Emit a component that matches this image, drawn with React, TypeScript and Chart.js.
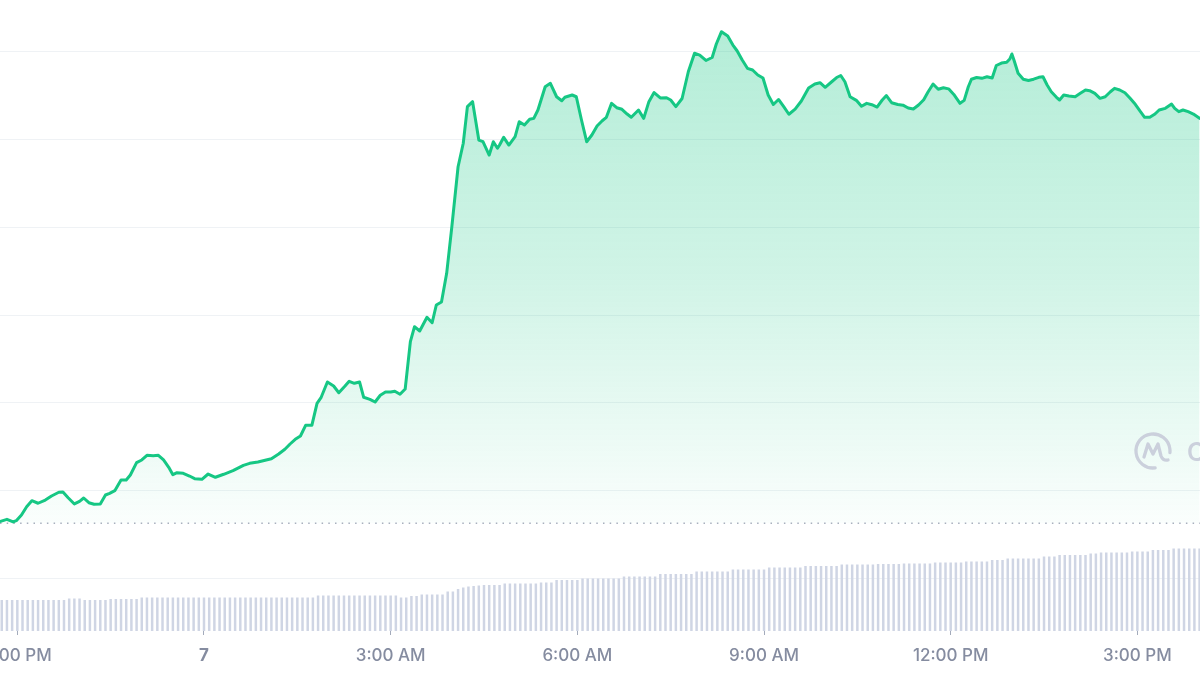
import { useEffect, useRef } from "react";
import { Chart, registerables } from "chart.js";

Chart.register(...registerables);

// Time in minutes from 00:00 on the 7th (negative = evening of the 6th)
const PRICE_TIMES = [
  -197, -190, -184, -181, -176, -171, -166, -160, -153, -147,
  -140, -136, -131, -125, -120, -116, -111, -106, -100, -95,
  -91, -86, -80, -75, -71, -65, -60, -55, -49, -44,
  -39, -34, -30, -26, -20, -14, -9, -2, 4, 11,
  19, 28, 38, 44, 52, 60, 65, 72, 78, 83,
  88, 93, 98, 104, 109, 113, 119, 125, 130, 136,
  140, 145, 150, 154, 160, 165, 170, 175, 180, 184,
  189, 194, 199, 203, 208, 215, 220, 224, 229, 234,
  239, 245, 250, 254, 259, 265, 269, 272, 275, 279,
  283, 285, 289, 294, 300, 304, 309, 314, 318, 322,
  329, 334, 340, 345, 348, 355, 359, 364, 369, 374,
  379, 384, 388, 393, 398, 403, 408, 412, 419, 424,
  429, 434, 440, 446, 450, 455, 461, 467, 473, 478,
  484, 490, 494, 499, 505, 510, 514, 519, 524, 529,
  534, 539, 544, 549, 554, 559, 564, 570, 576, 583,
  589, 594, 599, 605, 610, 614, 618, 623, 629, 634,
  639, 644, 649, 654, 658, 663, 669, 674, 679, 684,
  689, 694, 698, 703, 708, 713, 718, 723, 729, 733,
  737, 740, 745, 750, 755, 760, 764, 769, 774, 777,
  779, 781, 785, 790, 795, 800, 805, 809, 813, 817,
  822, 825, 829, 834, 840, 845, 850, 854, 859, 864,
  869, 874, 878, 883, 888, 893, 898, 903, 907, 912,
  917, 921, 927, 933, 936, 940, 944, 949, 954, 960,
];

const PRICES = [
  0.647, 0.674, 0.644, 0.658, 0.723, 0.818, 0.886, 0.857, 0.894, 0.94,
  0.982, 0.985, 0.92, 0.849, 0.879, 0.917, 0.863, 0.845, 0.849, 0.951,
  0.97, 1.0, 1.122, 1.122, 1.179, 1.319, 1.35, 1.403, 1.399, 1.403,
  1.35, 1.267, 1.182, 1.205, 1.198, 1.167, 1.137, 1.13, 1.19, 1.153,
  1.187, 1.228, 1.289, 1.312, 1.327, 1.35, 1.364, 1.418, 1.472, 1.532,
  1.585, 1.623, 1.745, 1.745, 1.995, 2.064, 2.238, 2.192, 2.116, 2.192,
  2.246, 2.223, 2.238, 2.064, 2.041, 2.01, 2.087, 2.124, 2.124, 2.132,
  2.098, 2.158, 2.697, 2.868, 2.819, 2.975, 2.913, 3.115, 3.149, 3.476,
  4.007, 4.69, 4.957, 5.374, 5.431, 4.994, 4.975, 4.9, 4.823, 4.975,
  4.9, 4.937, 5.025, 4.937, 5.032, 5.203, 5.165, 5.23, 5.241, 5.336,
  5.601, 5.64, 5.487, 5.442, 5.481, 5.507, 5.487, 5.222, 4.975, 5.051,
  5.154, 5.214, 5.253, 5.412, 5.362, 5.344, 5.29, 5.253, 5.336, 5.241,
  5.431, 5.535, 5.473, 5.476, 5.45, 5.374, 5.467, 5.772, 5.982, 5.962,
  5.9, 5.934, 6.088, 6.228, 6.179, 6.076, 6.011, 5.905, 5.811, 5.792,
  5.735, 5.7, 5.507, 5.399, 5.456, 5.374, 5.288, 5.347, 5.439, 5.587,
  5.632, 5.647, 5.595, 5.655, 5.706, 5.729, 5.658, 5.487, 5.446, 5.378,
  5.412, 5.396, 5.37, 5.45, 5.501, 5.419, 5.399, 5.391, 5.359, 5.347,
  5.393, 5.453, 5.539, 5.632, 5.572, 5.589, 5.577, 5.513, 5.412, 5.446,
  5.601, 5.686, 5.706, 5.697, 5.715, 5.7, 5.843, 5.871, 5.879, 5.917,
  5.974, 5.905, 5.754, 5.686, 5.672, 5.687, 5.708, 5.715, 5.621, 5.544,
  5.481, 5.45, 5.507, 5.495, 5.487, 5.526, 5.564, 5.556, 5.526, 5.469,
  5.487, 5.544, 5.583, 5.564, 5.533, 5.469, 5.401, 5.317, 5.253, 5.253,
  5.29, 5.336, 5.355, 5.404, 5.355, 5.317, 5.336, 5.317, 5.29, 5.241,
];

const OPEN_PRICE = 0.629;

// Volume bars every 5 minutes starting at -195
const VOLUME_START = -195;
const VOLUME_STEP = 5;
const VOLUMES = [
  6.2, 6.2, 6.2, 6.2, 6.2, 6.2, 6.2, 6.2, 6.2, 6.2, 6.2, 6.2, 6.2,
  6.5, 6.5, 6.5,
  6.2, 6.2, 6.2, 6.2, 6.2,
  6.4, 6.4, 6.4, 6.4, 6.4, 6.4,
  6.7, 6.7, 6.7, 6.7, 6.7, 6.7, 6.7, 6.7, 6.7, 6.7,
  6.7, 6.7, 6.7, 6.7, 6.7, 6.7, 6.7, 6.7, 6.7, 6.7,
  6.7, 6.7, 6.7, 6.7, 6.7, 6.7, 6.7, 6.7, 6.7, 6.7,
  6.7, 6.7, 6.7, 6.7,
  7.1, 7.1, 7.1, 7.1, 7.1, 7.1, 7.1, 7.1,
  7.1, 7.1, 7.1, 7.1, 7.1, 7.1, 7.1, 7.1,
  6.7, 6.7, 7.0, 7.0,
  7.3, 7.3, 7.3, 7.3, 7.3,
  7.9, 7.9, 8.4, 8.7, 8.9, 9.0, 9.1,
  9.2, 9.2, 9.2, 9.2,
  9.5, 9.5, 9.5, 9.5, 9.5, 9.5, 9.5,
  9.7, 9.7, 9.7,
  10.2, 10.2, 10.2, 10.2, 10.2,
  10.5, 10.5, 10.5, 10.5, 10.5, 10.5, 10.5, 10.5,
  10.9, 10.9, 10.9, 10.9, 10.9, 10.9, 10.9,
  11.4, 11.4, 11.4, 11.4, 11.4, 11.4, 11.4,
  11.9, 11.9, 11.9, 11.9, 11.9, 11.9, 11.9,
  12.3, 12.3, 12.3, 12.3, 12.3, 12.3, 12.3,
  12.7, 12.7, 12.7, 12.7, 12.7, 12.7, 12.7,
  13.0, 13.0, 13.0, 13.0, 13.0, 13.0, 13.0,
  13.3, 13.3, 13.3, 13.3, 13.3, 13.3, 13.3,
  13.4, 13.4, 13.4, 13.4, 13.4,
  13.5, 13.5, 13.5, 13.5, 13.5, 13.5,
  13.7, 13.7, 13.7, 13.7, 13.7, 13.7,
  13.9, 13.9, 13.9, 13.9, 13.9,
  14.2, 14.2, 14.2,
  14.5, 14.5, 14.5, 14.5, 14.5, 14.5, 14.5,
  14.9, 14.9, 14.9,
  15.2, 15.2, 15.2, 15.2, 15.2, 15.2,
  15.5, 15.5,
  15.7, 15.7, 15.7, 15.7, 15.7, 15.7,
  15.9, 15.9, 15.9, 15.9,
  16.2, 16.2, 16.2, 16.2,
  16.5, 16.5, 16.5, 16.5, 16.5, 16.5,
];

const TICK_MINUTES = [-180, 0, 180, 360, 540, 720, 900];
const TICK_LABELS = ["9:00 PM", "7", "3:00 AM", "6:00 AM", "9:00 AM", "12:00 PM", "3:00 PM"];
const PRICE_GRID = [0, 1, 2, 3, 4, 5, 6];

const X_MIN = -196.7;
const X_MAX = 960.4;
const Y_MIN = -0.598;
const Y_MAX = 6.589;
const VOL_MAX = 126.2;

const GREEN = "#16c784";

const watermarkPlugin = {
  id: "cmcWatermark",
  afterDatasetsDraw(chart: any) {
    const c = chart.ctx as CanvasRenderingContext2D;
    const cx = 1153;
    const cy = 451;
    const r = 17;
    c.save();
    c.strokeStyle = "#cbd0dc";
    c.fillStyle = "#cbd0dc";
    c.lineWidth = 3.3;
    c.lineCap = "round";
    c.lineJoin = "round";
    c.beginPath();
    c.arc(cx, cy, r, 0.46 * Math.PI, 2.03 * Math.PI);
    c.stroke();
    c.beginPath();
    c.moveTo(cx - 9, cy + 6);
    c.lineTo(cx - 5, cy - 7);
    c.lineTo(cx, cy + 3);
    c.lineTo(cx + 5, cy - 7);
    c.lineTo(cx + 8, cy + 5);
    c.quadraticCurveTo(cx + 10, cy + 10, cx + 15, cy + 9);
    c.stroke();
    c.font = "600 25px Inter";
    c.textBaseline = "middle";
    c.fillText("CoinMarketCap", 1187, 453);
    c.restore();
  },
};

export default function App() {
  const ref = useRef<HTMLCanvasElement>(null);

  useEffect(() => {
    const priceData = PRICE_TIMES.map((t, i) => ({ x: t, y: PRICES[i] }));
    const volData = VOLUMES.map((v, i) => ({ x: VOLUME_START + i * VOLUME_STEP, y: v }));
    const openData = [
      { x: X_MIN, y: OPEN_PRICE },
      { x: X_MAX, y: OPEN_PRICE },
    ];
    const maxPrice = Math.max(...PRICES);

    const chart = new Chart(ref.current!, {
      type: "line",
      data: {
        datasets: [
          {
            type: "line",
            data: priceData,
            yAxisID: "y",
            borderColor: GREEN,
            borderWidth: 3,
            borderJoinStyle: "round",
            borderCapStyle: "round",
            pointRadius: 0,
            tension: 0,
            order: 0,
            fill: { target: { value: OPEN_PRICE } },
            backgroundColor: (ctx: any) => {
              const ch = ctx.chart;
              const area = ch.chartArea;
              if (!area) return "rgba(22,199,132,0.2)";
              const yS = ch.scales.y;
              const top = yS.getPixelForValue(maxPrice);
              const bot = yS.getPixelForValue(OPEN_PRICE);
              const g = ch.ctx.createLinearGradient(0, top, 0, bot);
              g.addColorStop(0, "rgba(22,199,132,0.32)");
              g.addColorStop(0.5, "rgba(22,199,132,0.2)");
              g.addColorStop(1, "rgba(22,199,132,0.02)");
              return g;
            },
          } as any,
          {
            type: "line",
            data: openData,
            yAxisID: "y",
            borderColor: "#a9afbe",
            borderWidth: 1.5,
            borderDash: [1.5, 5.2],
            pointRadius: 0,
            fill: false,
            order: 1,
          } as any,
          {
            type: "bar",
            data: volData,
            yAxisID: "yVol",
            backgroundColor: "#cfd5e4",
            barPercentage: 0.48,
            categoryPercentage: 1,
            order: 2,
          } as any,
        ],
      },
      options: {
        responsive: false,
        animation: false,
        devicePixelRatio: 1,
        layout: { padding: 0 },
        plugins: {
          legend: { display: false },
          tooltip: { enabled: false },
        },
        scales: {
          x: {
            type: "linear",
            position: "bottom",
            min: X_MIN,
            max: X_MAX,
            offset: false,
            border: { display: false },
            grid: {
              offset: false,
              drawOnChartArea: false,
              drawTicks: true,
              tickLength: 4,
              color: "#a3abbb",
            },
            ticks: {
              padding: 11,
              maxRotation: 0,
              autoSkip: false,
              color: "#858ca0",
              font: (ctx: any) => ({
                family: "Inter",
                size: 17,
                weight: ctx.tick && ctx.tick.value === 0 ? "700" : "500",
              }),
              callback: (value: any) => {
                const idx = TICK_MINUTES.indexOf(Number(value));
                return idx >= 0 ? TICK_LABELS[idx] : "";
              },
            },
            afterBuildTicks: (scale: any) => {
              scale.ticks = TICK_MINUTES.map((v) => ({ value: v }));
            },
            afterFit: (scale: any) => {
              scale.paddingLeft = 0;
              scale.paddingRight = 0;
              scale.height = 44;
            },
          } as any,
          y: {
            type: "linear",
            position: "left",
            min: Y_MIN,
            max: Y_MAX,
            border: { display: false },
            grid: { color: "#eff2f5", lineWidth: 1, drawTicks: false },
            ticks: { display: false },
            afterBuildTicks: (scale: any) => {
              scale.ticks = PRICE_GRID.map((v) => ({ value: v }));
            },
            afterFit: (scale: any) => {
              scale.width = 0;
            },
          } as any,
          yVol: {
            type: "linear",
            display: false,
            min: 0,
            max: VOL_MAX,
          },
        },
      },
      plugins: [watermarkPlugin],
    });

    return () => chart.destroy();
  }, []);

  return (
    <div
      style={{
        position: "fixed",
        left: 0,
        top: 0,
        width: 1200,
        height: 675,
        background: "#ffffff",
      }}
    >
      <canvas ref={ref} width={1200} height={675} style={{ display: "block", width: 1200, height: 675 }} />
    </div>
  );
}
